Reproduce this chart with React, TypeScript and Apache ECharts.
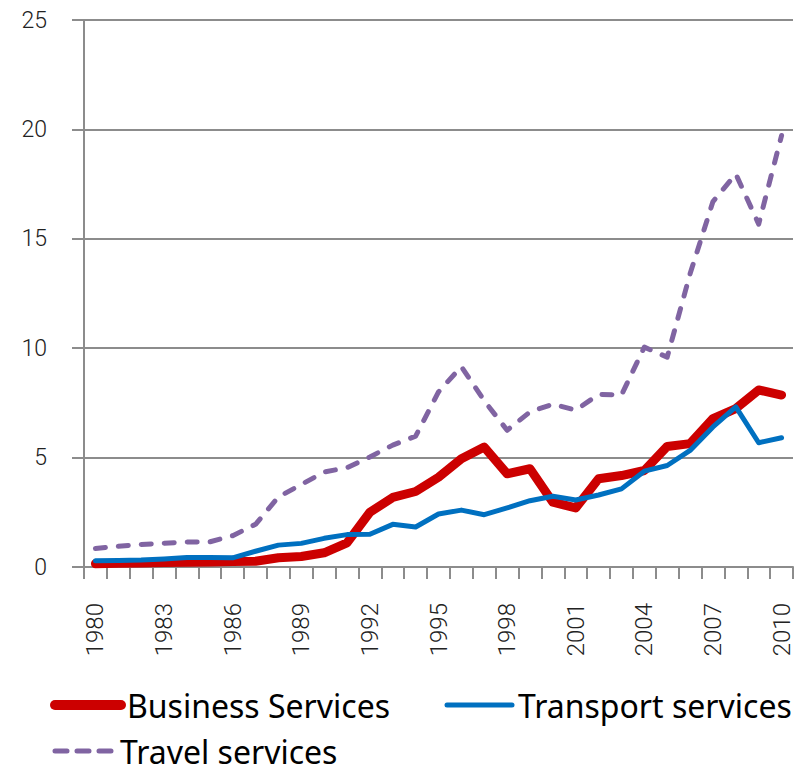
import React, { useEffect, useRef } from "react";
import * as echarts from "echarts";

const years = [
  "1980", "1981", "1982", "1983", "1984", "1985", "1986", "1987", "1988", "1989",
  "1990", "1991", "1992", "1993", "1994", "1995", "1996", "1997", "1998", "1999",
  "2000", "2001", "2002", "2003", "2004", "2005", "2006", "2007", "2008", "2009", "2010",
];

const businessServices = [
  0.15, 0.17, 0.18, 0.2, 0.22, 0.23, 0.25, 0.26, 0.42, 0.48,
  0.65, 1.1, 2.5, 3.18, 3.45, 4.1, 4.95, 5.48, 4.26, 4.49,
  2.96, 2.7, 4.03, 4.18, 4.41, 5.51, 5.64, 6.78, 7.24, 8.09, 7.86,
];

const transportServices = [
  0.28, 0.3, 0.32, 0.37, 0.43, 0.43, 0.42, 0.72, 1.0, 1.08,
  1.31, 1.48, 1.5, 1.95, 1.83, 2.42, 2.6, 2.39, 2.7, 3.03,
  3.23, 3.06, 3.29, 3.57, 4.38, 4.64, 5.33, 6.4, 7.32, 5.68, 5.91,
];

const travelServices = [
  0.85, 0.95, 1.03, 1.09, 1.14, 1.15, 1.43, 1.95, 3.2, 3.77,
  4.34, 4.54, 5.03, 5.57, 5.98, 8.0, 9.16, 7.6, 6.25, 7.09,
  7.44, 7.17, 7.89, 7.86, 10.05, 9.59, 13.4, 16.7, 17.96, 15.67, 19.72,
];

const seriesNames = ["Business Services", "Transport services", "Travel services"];
const seriesColors = ["#cc0000", "#0070c0", "#8064a2"];

export default function App() {
  const ref = useRef<HTMLDivElement>(null);

  useEffect(() => {
    if (!ref.current) return;
    const chart = echarts.init(ref.current, null, { renderer: "svg" });
    const axisColor = "#8c8c8c";
    const labelFont = {
      fontFamily: "Roboto, 'Liberation Sans', sans-serif",
      fontWeight: 300 as any,
      color: "#222",
    };
    const legendFont = "'Noto Sans', 'Liberation Sans', sans-serif";

    const legendItem = (
      name: string,
      color: string,
      x1: number,
      x2: number,
      y: number,
      width: number,
      dashed: boolean
    ) => ({
      type: "group",
      children: [
        {
          type: "line",
          shape: { x1, y1: y, x2, y2: y },
          style: {
            stroke: color,
            lineWidth: width,
            lineCap: "round",
            lineDash: dashed ? [12, 10] : null,
          },
        },
        {
          type: "text",
          x: x2 + 6,
          y,
          style: {
            text: name,
            fill: "#000",
            font: `32px ${legendFont}`,
            lineHeight: 32,
            verticalAlign: "middle",
            align: "left",
          },
        },
      ],
    });

    chart.setOption({
      animation: false,
      backgroundColor: "#ffffff",
      grid: { left: 84, right: 12, top: 20, bottom: 205 },
      legend: { show: false },
      graphic: [
        legendItem(seriesNames[0], seriesColors[0], 55, 121, 705, 10, false),
        legendItem(seriesNames[1], seriesColors[1], 447, 512, 705, 5, false),
        legendItem(seriesNames[2], seriesColors[2], 55, 114, 751, 5, true),
      ],
      xAxis: {
        type: "category",
        data: years,
        boundaryGap: true,
        axisLine: { show: true, lineStyle: { color: axisColor, width: 2 } },
        axisTick: { show: true, interval: 0, length: 12, lineStyle: { color: axisColor, width: 2 } },
        axisLabel: { ...labelFont, fontSize: 24, interval: 2, rotate: 90, margin: 36 },
        splitLine: { show: false },
      },
      yAxis: {
        type: "value",
        min: 0,
        max: 25,
        interval: 5,
        axisLine: { show: true, lineStyle: { color: axisColor, width: 2 } },
        axisTick: { show: true, length: 12, lineStyle: { color: axisColor, width: 2 } },
        axisLabel: { ...labelFont, fontSize: 23, margin: 37 },
        splitLine: { show: true, lineStyle: { color: axisColor, width: 2 } },
      },
      series: [
        {
          name: seriesNames[0],
          type: "line",
          data: businessServices,
          symbol: "none",
          color: seriesColors[0],
          lineStyle: { color: seriesColors[0], width: 9, cap: "round", join: "round" },
        },
        {
          name: seriesNames[1],
          type: "line",
          data: transportServices,
          symbol: "none",
          color: seriesColors[1],
          lineStyle: { color: seriesColors[1], width: 5, cap: "round", join: "round" },
        },
        {
          name: seriesNames[2],
          type: "line",
          data: travelServices,
          symbol: "none",
          color: seriesColors[2],
          lineStyle: { color: seriesColors[2], width: 5, type: [10, 13], cap: "round", join: "round" },
        },
      ],
    });
    return () => chart.dispose();
  }, []);

  return (
    <div
      ref={ref}
      style={{ position: "fixed", left: 0, top: 0, width: 805, height: 772, background: "#fff" }}
    />
  );
}
